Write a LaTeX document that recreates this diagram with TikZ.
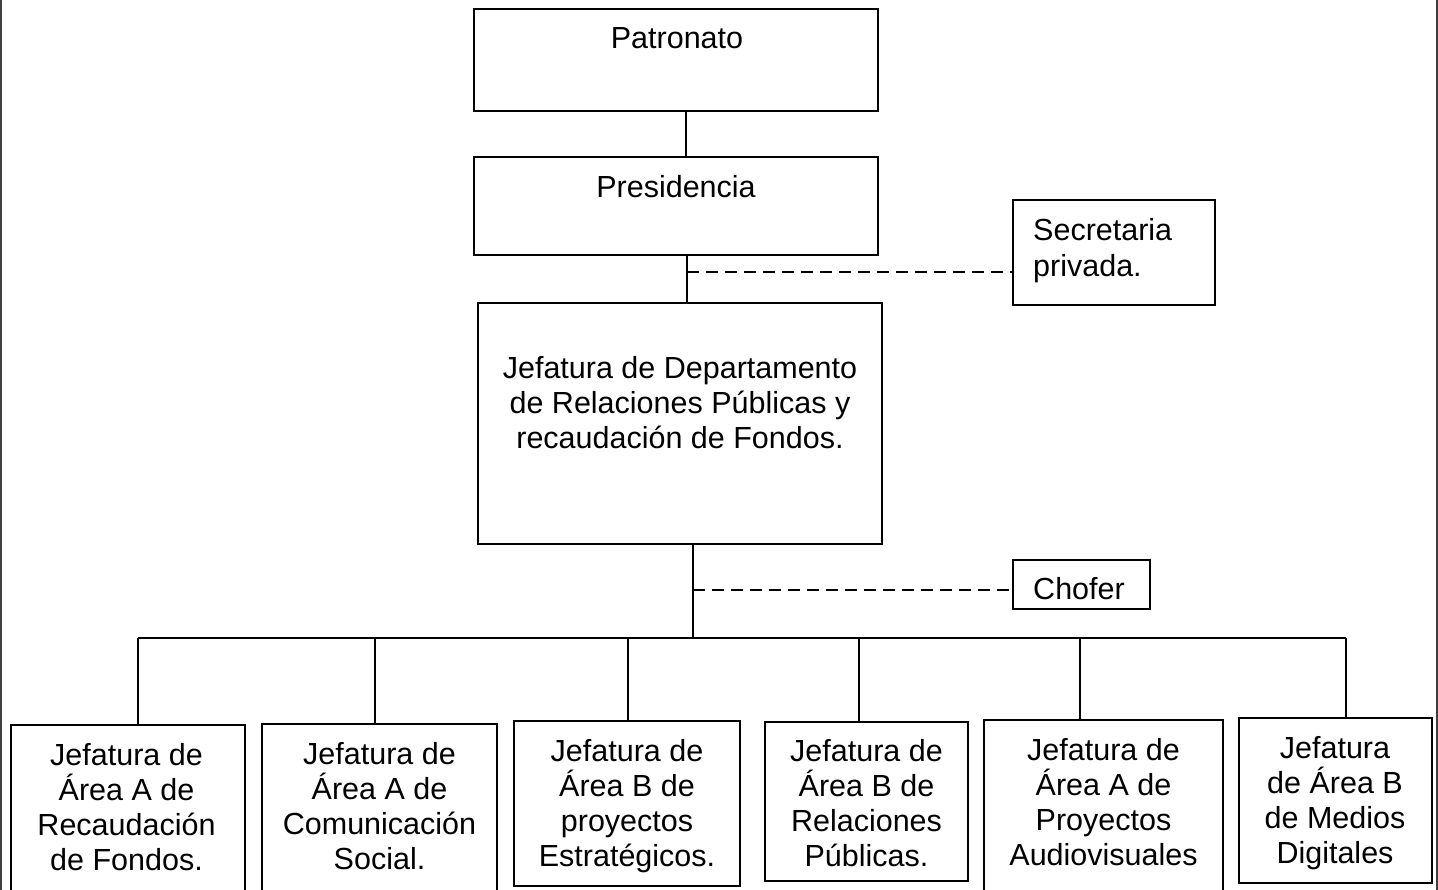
\documentclass[tikz,border=0pt]{standalone}
\usepackage{fontspec}
\setmainfont{Liberation Sans}
\begin{document}
\begin{tikzpicture}[x=1pt,y=-1pt,
  box/.style={draw, line width=2.1pt, inner sep=0pt},
  txt/.style={font=\fontsize{30.5}{35}\selectfont, align=center, inner sep=0pt, anchor=north},
  link/.style={line width=2.1pt},
  dashlink/.style={line width=2.4pt, dash pattern=on 12pt off 7pt},
  edge line/.style={line width=2pt, draw=black!75}]
\clip (0,0) rectangle (1438,890);
\fill[white] (0,0) rectangle (1438,890);
% page edges of the scan
\draw[edge line] (1,0) -- (1,890);
\draw[edge line] (1437,0) -- (1437,890);
% boxes
\node[box, minimum width=404, minimum height=102] (pat) at (676,60) {};
\node[box, minimum width=404, minimum height=98] (pres) at (676,206) {};
\node[box, minimum width=404, minimum height=241] (main) at (680,423.5) {};
\node[box, minimum width=202, minimum height=105] (sec) at (1114,252.5) {};
\node[box, minimum width=137, minimum height=49] (cho) at (1081.5,584.5) {};
\node[box, minimum width=234, minimum height=180] (b1) at (128,815) {};
\node[box, minimum width=235, minimum height=181] (b2) at (379.5,814.5) {};
\node[box, minimum width=226, minimum height=165] (b3) at (627,803.5) {};
\node[box, minimum width=203, minimum height=159] (b4) at (866.5,801.5) {};
\node[box, minimum width=239, minimum height=185] (b5) at (1103.5,812.5) {};
\node[box, minimum width=193, minimum height=165] (b6) at (1335.5,800.5) {};
% texts
\node[txt] (tpat) at (677,27) {Patronato};
\node[txt] (tpres) at (676,175) {Presidencia};
\node[txt] (tmain) at (680,356) {Jefatura de Departamento\\de Relaciones Públicas y\\recaudación de Fondos.};
\node[txt, anchor=north west, align=left, font=\fontsize{30.5}{36}\selectfont] (tsec) at (1033,218) {Secretaria\\privada.};
\node[txt] (tcho) at (1079,577) {Chofer};
\node[txt] (t1) at (126.5,743) {Jefatura de\\Área A de\\Recaudación\\de Fondos.};
\node[txt] (t2) at (379.5,742) {Jefatura de\\Área A de\\Comunicación\\Social.};
\node[txt] (t3) at (627,739) {Jefatura de\\Área B de\\proyectos\\Estratégicos.};
\node[txt] (t4) at (866.5,739) {Jefatura de\\Área B de\\Relaciones\\Públicas.};
\node[txt] (t5) at (1103.5,738) {Jefatura de\\Área A de\\Proyectos\\Audiovisuales};
\node[txt] (t6) at (1335,736) {Jefatura\\de Área B\\de Medios\\Digitales};
% junction coordinates
\coordinate (s1) at (686,0);
\coordinate (j1) at (687,272);
\coordinate (j2) at (693,590);
\coordinate (d1) at (138,638);
\coordinate (d2) at (375,638);
\coordinate (d3) at (628,638);
\coordinate (d4) at (859,638);
\coordinate (d5) at (1080,638);
\coordinate (d6) at (1346,638);
% connectors
\draw[link] (pat.south -| s1) -- (pres.north -| s1);
\draw[link] (pres.south -| j1) -- (main.north -| j1);
\draw[dashlink] (j1) -- (j1 -| sec.west);
\draw[link] (main.south -| j2) -- (j2 |- d1);
\draw[dashlink] (j2) -- (j2 -| cho.west);
\draw[link] (d1) -- (d6);
\draw[link] (d1) -- (d1 |- b1.north);
\draw[link] (d2) -- (d2 |- b2.north);
\draw[link] (d3) -- (d3 |- b3.north);
\draw[link] (d4) -- (d4 |- b4.north);
\draw[link] (d5) -- (d5 |- b5.north);
\draw[link] (d6) -- (d6 |- b6.north);
\end{tikzpicture}
\end{document}
